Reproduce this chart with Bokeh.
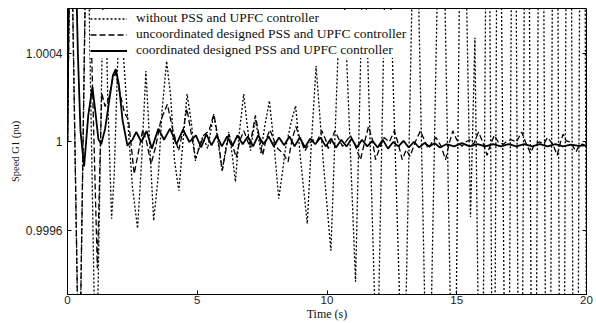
import numpy as np
from bokeh.plotting import figure
from bokeh.models import Range1d, FixedTicker, LinearAxis, Legend, LegendItem
from bokeh.embed import file_html
from bokeh.resources import INLINE

# ---------------- data (speed deviation in units of 1e-4 pu) ----------------
dot_t = [0, 0.12, 0.45, 0.75, 1.1, 1.42, 1.55, 1.7, 1.8, 1.97,
         2.15, 2.35, 2.5, 2.7, 2.85, 3.02, 3.12, 3.32, 3.5, 3.65,
         3.82, 3.98, 4.12, 4.29, 4.45, 4.61, 4.78, 4.93, 5.05, 5.2,
         5.3, 5.4, 5.52, 5.64, 5.8, 5.96, 6.1, 6.22, 6.35, 6.47,
         6.62, 6.79, 6.92, 7.05, 7.15, 7.24, 7.35, 7.45, 7.6, 7.78,
         7.95, 8.14, 8.28, 8.4, 8.6, 8.79, 9.0, 9.24, 9.4, 9.58,
         9.85, 10.15, 10.58, 11.1, 11.42, 11.93, 12.31, 12.95, 13.4, 13.9,
         14.4, 14.9, 15.2, 15.53, 15.7, 15.95, 16.2, 16.42, 16.6, 16.95,
         17.2, 17.45, 17.7, 17.97, 18.25, 18.52, 18.8, 19.05, 19.32, 19.58,
         19.85, 20.0]
dot_d = [0, 12, -12, 12, -12, 10, 2, -3.46, -1.5, 5,
         4, 0.5, -2.0, -3.9, -1.0, 3.2, 1.0, -3.55, -1.5, 1.5,
         3.65, 2.0, -0.8, -2.2, 0.0, 2.16, 0.8, -0.85, -0.3, 0.2,
         0.0, -0.3, 0.5, 1.26, 0.0, -1.29, -0.3, 0.45, -0.6, -1.8,
         0.4, 2.16, 0.8, -0.39, 0.4, 1.0, 0.3, -0.5, 0.7, 1.86,
         0.0, -2.56, -1.4, -0.3, 0.8, 1.63, -1.0, -3.69, 0.0, 3.43,
         -0.8, -4.9, 9, -6.3, 10, -11, 12, -13, 14, -15,
         16, -17, 18, -3.4, 4.7, -20, 21, -22, 23, -24,
         26, -27, 28, -30, 31, -32, 34, -35, 36, -38,
         40, -10]

dash_t = [0, 0.12, 0.45, 0.75, 1.15, 1.25, 1.32, 1.45, 1.6, 1.75,
          1.86, 1.98, 2.2, 2.35, 2.57, 2.76, 2.9, 3.05, 3.22, 3.4,
          3.6, 3.85, 4.05, 4.28, 4.45, 4.6, 4.75, 4.93, 5.1, 5.25,
          5.45, 5.64, 5.8, 5.96, 6.1, 6.22, 6.35, 6.5, 6.65, 6.8,
          6.92, 7.02, 7.12, 7.24, 7.38, 7.52, 7.65, 7.8, 7.95, 8.1,
          8.3, 8.5, 8.65, 8.8, 8.95, 9.15, 9.3, 9.45, 9.6, 9.8,
          9.95, 10.05, 10.3, 10.6, 10.9, 11.1, 11.29, 11.45, 11.6, 11.75,
          11.87, 12.05, 12.2, 12.4, 12.6, 12.75, 12.9, 13.05, 13.2, 13.4,
          13.6, 13.75, 13.9, 14.05, 14.2, 14.4, 14.57, 14.7, 14.85, 15.0,
          15.2, 15.35, 15.5, 15.65, 15.84, 16.0, 16.17, 16.3, 16.45, 16.6,
          16.8, 16.95, 17.1, 17.3, 17.5, 17.65, 17.84, 18.0, 18.2, 18.35,
          18.5, 18.7, 18.87, 19.0, 19.1, 19.22, 19.35, 19.48, 19.6, 19.72,
          19.85, 20.0]
dash_d = [0, 12, -12, 12, -5.7, -1.0, 2.2, 1.6, 2.0, 2.9,
          3.1, 2.4, 1.3, 1.0, -1.44, -0.3, 0.55, 0.0, -1.0, -0.2,
          1.0, 1.7, 0.6, -0.4, 0.5, 1.5, 0.5, -0.75, -0.2, 0.3,
          0.5, 1.25, 0.2, -1.3, -0.4, 0.35, -0.1, -0.7, 0.1, 0.5,
          0.1, -0.2, 0.4, 1.2, 0.3, -0.6, 0.1, 0.55, 0.1, -0.3,
          -0.5, -0.9, 0.1, 0.7, 0.2, -0.4, -0.1, 0.1, 0.0, 0.5,
          0.1, -0.3, 0.5, -0.2, 0.3, -0.2, -0.8, 0.0, 0.7, 0.1,
          -0.8, -0.2, 0.2, 0.0, 0.5, -0.1, -0.8, -0.35, -0.65, 0.0,
          0.5, 0.1, -0.3, 0.0, 0.2, -0.2, -0.8, -0.1, 0.5, 0.1,
          -0.2, 0.0, 0.1, -0.1, 0.45, 0.0, -0.6, -0.1, 0.3, 0.0,
          -0.1, 0.05, 0.1, 0.0, 0.45, 0.0, -0.5, -0.1, 0.0, -0.1,
          0.2, -0.1, -0.6, 0.0, 0.35, 0.05, 0.0, -0.2, -0.45, -0.15,
          -0.1, -0.2]

sol_t = [0, 0.04, 0.1, 0.3, 0.4, 0.5, 0.64, 0.8, 0.96, 1.08,
         1.19, 1.3, 1.45, 1.6, 1.75, 1.86, 1.98, 2.12, 2.31, 2.5,
         2.65, 2.85, 3.05, 3.25, 3.5, 3.72, 3.95, 4.2, 4.45, 4.7,
         4.95, 5.15, 5.35, 5.55, 5.75, 5.95, 6.15, 6.35, 6.55, 6.75,
         6.95, 7.15, 7.35, 7.55, 7.75, 7.95, 8.15, 8.35, 8.55, 8.75,
         8.95, 9.15, 9.35, 9.55, 9.75, 9.95, 10.15, 10.35, 10.55, 10.75,
         10.95, 11.15, 11.35, 11.55, 11.75, 11.95, 12.15, 12.35, 12.55, 12.75,
         12.95, 13.15, 13.35, 13.55, 13.75, 13.95, 14.15, 14.35, 14.6, 14.9,
         15.2, 15.5, 15.8, 16.1, 16.4, 16.7, 17.0, 17.3, 17.6, 17.9,
         18.2, 18.5, 18.8, 19.1, 19.4, 19.7, 20.0]
sol_d = [0, 6, 9, 9, 4, 0.5, -1.1, 1.2, 2.47, 1.3,
         0.13, -0.1, 0.6, 1.8, 3.0, 3.28, 2.6, 1.0, -0.17, 0.1,
         0.45, 0.0, 0.5, -0.3, 0.6, 0.1, 0.6, -0.1, 0.55, 0.0,
         0.3, -0.25, 0.35, -0.15, 0.3, -0.2, 0.25, -0.2, 0.3, -0.1,
         0.25, -0.2, 0.3, -0.1, 0.25, -0.2, 0.2, -0.15, 0.25, -0.2,
         0.2, -0.25, 0.15, -0.1, 0.2, -0.2, 0.15, -0.25, 0.1, -0.2,
         0.15, -0.25, 0.1, -0.2, 0.05, -0.25, 0.1, -0.3, 0.0, -0.2,
         0.05, -0.25, 0.0, -0.25, -0.05, -0.2, -0.05, -0.25, -0.1, -0.2,
         -0.05, -0.2, -0.1, -0.2, -0.1, -0.2, -0.1, -0.2, -0.1, -0.2,
         -0.1, -0.2, -0.1, -0.2, -0.12, -0.18, -0.15]

x_ticks = [0, 5, 10, 15, 20]
y_ticks = [0.9996, 1.0, 1.0004]
y_tick_labels = {0.9996: "0.9996", 1.0: "1", 1.0004: "1.0004"}
labels = ["without PSS and UPFC controller",
          "uncoordinated designed PSS and UPFC controller",
          "coordinated designed PSS and UPFC controller"]

def speed(d):
    return 1.0 + np.array(d, dtype=float) * 1e-4

# ---------------- figure ----------------
p = figure(width=596, height=323, output_backend="svg", toolbar_location=None,
           x_range=Range1d(0, 20), y_range=Range1d(0.999312, 1.000602),
           min_border_left=67, min_border_right=10, min_border_top=8,
           min_border_bottom=27)
p.xgrid.visible = False
p.ygrid.visible = False
p.outline_line_color = "black"
p.outline_line_width = 1
p.background_fill_color = "white"
p.border_fill_color = "white"

r_dot = p.line(dot_t, speed(dot_d), line_color="black", line_width=1.3, line_dash="2 2")
r_dash = p.line(dash_t, speed(dash_d), line_color="black", line_width=1.3, line_dash="6 3")
r_sol = p.line(sol_t, speed(sol_d), line_color="black", line_width=1.8)

for ax in (p.xaxis[0], p.yaxis[0]):
    ax.major_tick_in = 4
    ax.major_tick_out = 0
    ax.minor_tick_line_color = None
    ax.axis_line_color = "black"
    ax.major_tick_line_color = "black"
    ax.major_label_text_font = "Liberation Sans"
    ax.major_label_text_color = "#222222"
    ax.axis_label_text_font = "Liberation Serif"
    ax.axis_label_text_font_style = "normal"
    ax.axis_label_text_color = "#111111"

p.xaxis.ticker = FixedTicker(ticks=x_ticks)
p.yaxis.ticker = FixedTicker(ticks=y_ticks)
p.yaxis.major_label_overrides = y_tick_labels
p.yaxis.major_label_text_font_size = "12px"
p.xaxis.major_label_text_font_size = "11.5px"
p.xaxis.axis_label = "Time (s)"
p.yaxis.axis_label = "Speed G1 (pu)"
p.xaxis.axis_label_text_font_size = "12px"
p.yaxis.axis_label_text_font_size = "10.5px"
p.xaxis.major_label_standoff = 1
p.xaxis.axis_label_standoff = 0
p.yaxis.major_label_standoff = 5
p.yaxis.axis_label_standoff = 2

# inward ticks on the right side of the box
ax_r = LinearAxis(ticker=FixedTicker(ticks=y_ticks),
                  major_label_overrides={t: "" for t in y_ticks},
                  major_tick_in=4, major_tick_out=0, minor_tick_line_color=None,
                  axis_line_color=None, major_label_standoff=0)
p.add_layout(ax_r, "right")

legend = Legend(items=[LegendItem(label=labels[0], renderers=[r_dot]),
                       LegendItem(label=labels[1], renderers=[r_dash]),
                       LegendItem(label=labels[2], renderers=[r_sol])],
                location=(23, 236), label_text_font="Liberation Serif",
                label_text_font_size="13.5px", label_text_color="#111111",
                label_height=15, glyph_height=15, glyph_width=37, label_standoff=9,
                spacing=0, padding=2, margin=0, border_line_color=None,
                background_fill_color="white", background_fill_alpha=1.0)
p.add_layout(legend)

open("out.html", "w").write(file_html(p, INLINE))
